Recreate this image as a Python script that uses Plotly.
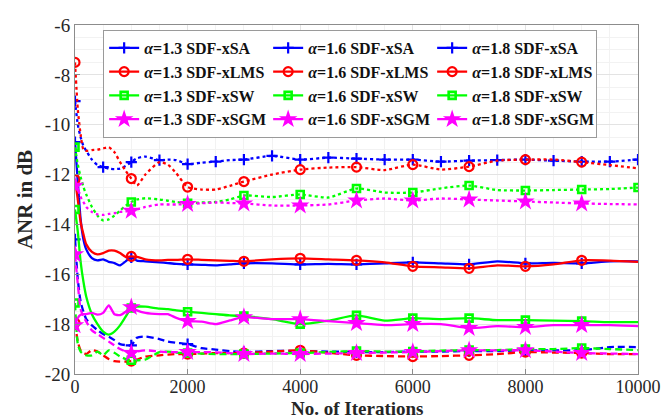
import plotly.graph_objects as go

# ---------------- data ----------------
iterations = [0, 50, 100, 150, 200, 300, 400, 500, 600, 700, 800, 900, 1000, 1100, 1250,
              1500, 1650, 1800, 2000, 2250, 2500, 2750, 3000, 3500, 4000, 4500, 5000, 5500,
              6000, 6500, 7000, 7500, 8000, 8500, 9000, 9500, 10000]

sa_13 = [-9.05, -10.0, -10.5, -10.85, -11.05, -11.4, -11.62, -11.7, -11.76, -11.78, -11.76, -11.65,
         -11.5, -11.35, -11.28, -11.42, -11.4, -11.42, -11.58, -11.52, -11.48, -11.42, -11.4, -11.25,
         -11.4, -11.32, -11.36, -11.4, -11.4, -11.48, -11.44, -11.42, -11.4, -11.44, -11.48, -11.48, -11.4]
lms_13 = [-7.5, -9.4, -10.4, -11.0, -11.05, -11.02, -11.0, -10.95, -10.9, -11.1, -11.5, -11.85,
          -12.16, -12.44, -12.0, -11.5, -11.6, -11.95, -12.5, -12.6, -12.6, -12.45, -12.28, -12.0,
          -11.8, -11.72, -11.7, -11.82, -11.6, -11.8, -11.68, -11.44, -11.4, -11.4, -11.5, -11.62, -11.75]
sw_13 = [-10.9, -11.6, -12.1, -12.5, -12.8, -13.3, -13.65, -13.84, -13.8, -13.65, -13.45, -13.25,
         -13.1, -13.0, -12.95, -13.0, -13.05, -13.1, -13.15, -13.12, -13.1, -13.0, -12.84, -12.9,
         -12.8, -12.92, -12.56, -12.72, -12.72, -12.55, -12.44, -12.62, -12.64, -12.62, -12.6, -12.58, -12.52]
sgm_13 = [-12.45, -12.6, -12.9, -13.1, -13.3, -13.5, -13.6, -13.62, -13.58, -13.55, -13.5, -13.48,
          -13.45, -13.4, -13.3, -13.2, -13.2, -13.2, -13.18, -13.15, -13.12, -13.14, -13.16, -13.24,
          -13.24, -13.2, -13.04, -12.96, -13.04, -12.96, -13.0, -13.04, -13.08, -13.12, -13.16, -13.18, -13.2]

sa_16 = [-10.7, -12.3, -13.8, -14.6, -15.0, -15.35, -15.44, -15.4, -15.5, -15.55, -15.64, -15.48,
         -15.32, -15.45, -15.48, -15.52, -15.55, -15.58, -15.6, -15.62, -15.64, -15.6, -15.56, -15.56,
         -15.6, -15.58, -15.6, -15.56, -15.52, -15.56, -15.6, -15.48, -15.56, -15.54, -15.56, -15.48, -15.48]
lms_16 = [-12.2, -13.0, -13.9, -14.4, -14.8, -15.1, -15.2, -15.15, -15.05, -15.05, -15.15, -15.3,
          -15.28, -15.3, -15.4, -15.44, -15.42, -15.42, -15.4, -15.42, -15.44, -15.46, -15.48, -15.4,
          -15.36, -15.4, -15.44, -15.52, -15.68, -15.72, -15.76, -15.64, -15.68, -15.6, -15.44, -15.45, -15.5]
sw_16 = [-13.4, -14.3, -15.5, -16.3, -16.9, -17.6, -18.0, -18.3, -18.42, -18.3, -18.05, -17.7,
         -17.35, -17.3, -17.3, -17.38, -17.4, -17.45, -17.5, -17.55, -17.6, -17.65, -17.68, -17.8,
         -18.0, -17.86, -17.65, -17.86, -17.76, -17.8, -17.76, -17.84, -17.84, -17.86, -17.88, -17.92, -17.92]
sgm_16 = [-18.05, -17.75, -17.62, -17.6, -17.6, -17.55, -17.62, -17.55, -17.25, -17.6, -17.64, -17.5,
          -17.32, -17.45, -17.55, -17.6, -17.6, -17.75, -17.88, -17.9, -18.0, -17.85, -17.72, -17.8,
          -17.8, -17.88, -17.96, -18.04, -18.0, -18.0, -18.16, -18.08, -18.12, -18.04, -18.04, -18.04, -18.08]

sa_18 = [-14.6, -16.2, -17.1, -17.5, -17.8, -18.05, -18.24, -18.4, -18.5, -18.64, -18.8, -18.84,
         -18.85, -18.55, -18.5, -18.6, -18.7, -18.75, -18.8, -18.96, -19.02, -19.08, -19.12, -19.08,
         -19.08, -19.1, -19.12, -19.12, -19.1, -19.1, -19.08, -19.08, -19.05, -19.05, -19.05, -18.92, -18.92]
lms_18 = [-17.95, -18.7, -19.05, -19.15, -19.2, -19.04, -19.1, -19.25, -19.4, -19.48, -19.5, -19.5,
          -19.48, -19.42, -19.3, -19.25, -19.22, -19.2, -19.2, -19.18, -19.16, -19.16, -19.16, -19.1,
          -19.05, -19.15, -19.25, -19.28, -19.3, -19.28, -19.25, -19.2, -19.12, -19.14, -19.16, -19.2, -19.2]
sw_18 = [-17.15, -18.8, -19.1, -19.2, -19.25, -19.25, -19.1, -19.25, -19.05, -19.15, -19.3, -19.4,
         -19.45, -19.45, -19.42, -19.12, -19.1, -19.14, -19.16, -19.18, -19.2, -19.2, -19.2, -19.18,
         -19.16, -19.12, -19.08, -19.1, -19.1, -19.06, -19.04, -19.04, -19.0, -19.0, -18.96, -19.0, -19.04]
sgm_18 = [-15.2, -16.4, -17.4, -17.7, -17.9, -18.25, -18.4, -18.55, -18.7, -18.85, -19.0, -19.1,
          -19.16, -19.1, -19.05, -19.1, -19.12, -19.12, -19.12, -19.12, -19.13, -19.16, -19.2, -19.18,
          -19.2, -19.18, -19.16, -19.14, -19.12, -19.08, -19.05, -19.05, -19.05, -19.1, -19.16, -19.18, -19.2]

markers_every_1000 = [0, 1000, 2000, 3000, 4000, 5000, 6000, 7000, 8000, 9000]
markers_every_500 = [0, 500, 1000, 1500, 2000, 2500, 3000, 3500, 4000, 4500, 5000, 5500,
                     6000, 6500, 7000, 7500, 8000, 8500, 9000, 9500, 10000]
markers_to_10000 = markers_every_1000 + [10000]

y_tick_vals = [-20, -18, -16, -14, -12, -10, -8, -6]
y_tick_text = ["-20", "-18", "-16", "-14", "-12", "-10", "-8", "-6"]
x_tick_vals = [0, 2000, 4000, 6000, 8000, 10000]
x_tick_text = ["0", "2000", "4000", "6000", "8000", "10000"]
x_title = "No. of Iterations"
y_title = "ANR in dB"

# ---------------- styles ----------------
BLUE, RED, GREEN, MAGENTA = "#0000FF", "#FF0000", "#00FF00", "#FF00FF"
DASH = {"1.3": "dot", "1.6": "solid", "1.8": "7px,4px"}
ALG = {
    "SA": dict(color=BLUE, symbol="cross-thin-open", size=8, lw=2.2),
    "LMS": dict(color=RED, symbol="circle-open", size=9, lw=2.2),
    "SW": dict(color=GREEN, symbol="square-open", size=7, lw=2.6),
    "SGM": dict(color=MAGENTA, symbol="star", size=14, lw=0),
}

series = {
    ("1.3", "SA"): (sa_13, markers_every_500),
    ("1.6", "SA"): (sa_16, markers_every_1000),
    ("1.8", "SA"): (sa_18, markers_every_1000),
    ("1.3", "LMS"): (lms_13, markers_every_1000),
    ("1.6", "LMS"): (lms_16, markers_every_1000),
    ("1.8", "LMS"): (lms_18, markers_every_1000),
    ("1.3", "SW"): (sw_13, markers_to_10000),
    ("1.6", "SW"): (sw_16, markers_every_1000),
    ("1.8", "SW"): (sw_18, markers_every_1000),
    ("1.3", "SGM"): (sgm_13, markers_every_1000),
    ("1.6", "SGM"): (sgm_16, markers_every_1000),
    ("1.8", "SGM"): (sgm_18, markers_every_1000),
}

fig = go.Figure()

for (alpha, alg), (vals, mk) in series.items():
    st = ALG[alg]
    fig.add_trace(go.Scatter(
        x=iterations, y=vals, mode="lines", showlegend=False, hoverinfo="skip",
        line=dict(color=st["color"], width=2.3, dash=DASH[alpha], shape="spline", smoothing=0.6),
    ))
    my = [vals[iterations.index(m)] for m in mk]
    fig.add_trace(go.Scatter(
        x=mk, y=my, mode="markers", showlegend=False, hoverinfo="skip",
        marker=dict(color=st["color"], symbol=st["symbol"], size=st["size"],
                    line=dict(color=st["color"], width=st["lw"])),
    ))

for (alpha, alg) in series.keys():
    st = ALG[alg]
    fig.add_trace(go.Scatter(
        x=[None], y=[None], mode="lines+markers",
        name=f"<b><i>α</i>={alpha} SDF-x{alg}</b>",
        line=dict(color=st["color"], width=2.3, dash="solid"),
        marker=dict(color=st["color"], symbol=st["symbol"], size=st["size"],
                    line=dict(color=st["color"], width=st["lw"])),
    ))

FONT = "Liberation Serif, Times New Roman, serif"
axis_common = dict(
    showline=True, linecolor="#8c8c8c", linewidth=1, mirror=True,
    ticks="inside", ticklen=5, tickcolor="#8c8c8c",
    showgrid=True, gridcolor="#e3e3e3", gridwidth=1,
    zeroline=False, automargin=False,
)

fig.update_layout(
    width=669, height=418,
    margin=dict(l=67, r=39, t=17, b=52, autoexpand=False),
    paper_bgcolor="white", plot_bgcolor="white",
    font=dict(family=FONT, color="#262626"),
    xaxis=dict(
        range=[0, 10000], tickvals=x_tick_vals, ticktext=x_tick_text,
        minor=dict(dtick=500, showgrid=True, gridcolor="#f2f2f2", ticks=""),
        tickfont=dict(family=FONT, size=18, color="#262626"),
        ticklabelstandoff=-4,
        **axis_common,
    ),
    yaxis=dict(
        range=[-20, -6], tickvals=y_tick_vals, ticktext=y_tick_text,
        minor=dict(dtick=0.5, showgrid=True, gridcolor="#f2f2f2", ticks=""),
        tickfont=dict(family=FONT, size=19, color="#262626"),
        title=dict(text=f"<b>{y_title}</b>", font=dict(family=FONT, size=21, color="#262626"), standoff=6),
        **axis_common,
    ),
    legend=dict(
        orientation="h", x=0.05, y=0.986, xanchor="left", yanchor="top",
        bgcolor="white", bordercolor="#9a9a9a", borderwidth=1,
        font=dict(family=FONT, size=16, color="#111111"),
        entrywidth=119, entrywidthmode="pixels",
        itemwidth=30, tracegroupgap=0,
    ),
    annotations=[dict(
        text=f"<b>{x_title}</b>", xref="paper", yref="paper", x=0.5, y=-0.098,
        xanchor="center", yanchor="middle", showarrow=False,
        font=dict(family=FONT, size=19, color="#262626"),
    )],
)

fig.write_html("out.html")
